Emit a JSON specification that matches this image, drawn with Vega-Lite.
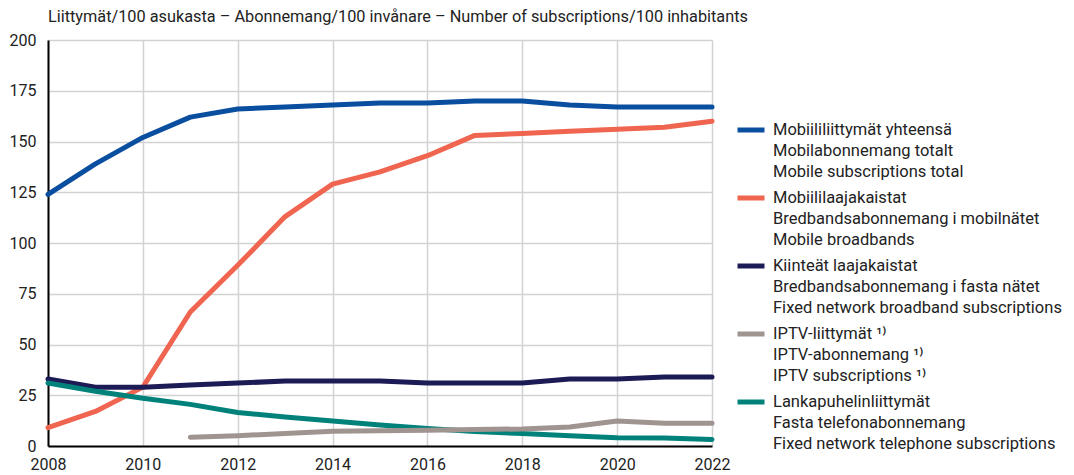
{
  "$schema": "https://vega.github.io/schema/vega-lite/v6.json",
  "width": 664,
  "height": 406,
  "autosize": {"type": "none"},
  "padding": {"left": 48, "top": 40, "right": 362, "bottom": 29},
  "title": {
    "text": "Liittymät/100 asukasta – Abonnemang/100 invånare – Number of subscriptions/100 inhabitants",
    "anchor": "start",
    "frame": "group",
    "offset": 7,
    "font": "Roboto",
    "fontSize": 16.3,
    "fontWeight": "normal",
    "color": "#222222"
  },
  "datasets": {
    "series": [
      {"year": 2008, "value": 124, "s": "Mobiililiittymät yhteensä|Mobilabonnemang totalt|Mobile subscriptions total"},
      {"year": 2009, "value": 139, "s": "Mobiililiittymät yhteensä|Mobilabonnemang totalt|Mobile subscriptions total"},
      {"year": 2010, "value": 152, "s": "Mobiililiittymät yhteensä|Mobilabonnemang totalt|Mobile subscriptions total"},
      {"year": 2011, "value": 162, "s": "Mobiililiittymät yhteensä|Mobilabonnemang totalt|Mobile subscriptions total"},
      {"year": 2012, "value": 166, "s": "Mobiililiittymät yhteensä|Mobilabonnemang totalt|Mobile subscriptions total"},
      {"year": 2013, "value": 167, "s": "Mobiililiittymät yhteensä|Mobilabonnemang totalt|Mobile subscriptions total"},
      {"year": 2014, "value": 168, "s": "Mobiililiittymät yhteensä|Mobilabonnemang totalt|Mobile subscriptions total"},
      {"year": 2015, "value": 169, "s": "Mobiililiittymät yhteensä|Mobilabonnemang totalt|Mobile subscriptions total"},
      {"year": 2016, "value": 169, "s": "Mobiililiittymät yhteensä|Mobilabonnemang totalt|Mobile subscriptions total"},
      {"year": 2017, "value": 170, "s": "Mobiililiittymät yhteensä|Mobilabonnemang totalt|Mobile subscriptions total"},
      {"year": 2018, "value": 170, "s": "Mobiililiittymät yhteensä|Mobilabonnemang totalt|Mobile subscriptions total"},
      {"year": 2019, "value": 168, "s": "Mobiililiittymät yhteensä|Mobilabonnemang totalt|Mobile subscriptions total"},
      {"year": 2020, "value": 167, "s": "Mobiililiittymät yhteensä|Mobilabonnemang totalt|Mobile subscriptions total"},
      {"year": 2021, "value": 167, "s": "Mobiililiittymät yhteensä|Mobilabonnemang totalt|Mobile subscriptions total"},
      {"year": 2022, "value": 167, "s": "Mobiililiittymät yhteensä|Mobilabonnemang totalt|Mobile subscriptions total"},
      {"year": 2008, "value": 9, "s": "Mobiililaajakaistat|Bredbandsabonnemang i mobilnätet|Mobile broadbands"},
      {"year": 2009, "value": 17, "s": "Mobiililaajakaistat|Bredbandsabonnemang i mobilnätet|Mobile broadbands"},
      {"year": 2010, "value": 29, "s": "Mobiililaajakaistat|Bredbandsabonnemang i mobilnätet|Mobile broadbands"},
      {"year": 2011, "value": 66, "s": "Mobiililaajakaistat|Bredbandsabonnemang i mobilnätet|Mobile broadbands"},
      {"year": 2012, "value": 89, "s": "Mobiililaajakaistat|Bredbandsabonnemang i mobilnätet|Mobile broadbands"},
      {"year": 2013, "value": 113, "s": "Mobiililaajakaistat|Bredbandsabonnemang i mobilnätet|Mobile broadbands"},
      {"year": 2014, "value": 129, "s": "Mobiililaajakaistat|Bredbandsabonnemang i mobilnätet|Mobile broadbands"},
      {"year": 2015, "value": 135, "s": "Mobiililaajakaistat|Bredbandsabonnemang i mobilnätet|Mobile broadbands"},
      {"year": 2016, "value": 143, "s": "Mobiililaajakaistat|Bredbandsabonnemang i mobilnätet|Mobile broadbands"},
      {"year": 2017, "value": 153, "s": "Mobiililaajakaistat|Bredbandsabonnemang i mobilnätet|Mobile broadbands"},
      {"year": 2018, "value": 154, "s": "Mobiililaajakaistat|Bredbandsabonnemang i mobilnätet|Mobile broadbands"},
      {"year": 2019, "value": 155, "s": "Mobiililaajakaistat|Bredbandsabonnemang i mobilnätet|Mobile broadbands"},
      {"year": 2020, "value": 156, "s": "Mobiililaajakaistat|Bredbandsabonnemang i mobilnätet|Mobile broadbands"},
      {"year": 2021, "value": 157, "s": "Mobiililaajakaistat|Bredbandsabonnemang i mobilnätet|Mobile broadbands"},
      {"year": 2022, "value": 160, "s": "Mobiililaajakaistat|Bredbandsabonnemang i mobilnätet|Mobile broadbands"},
      {"year": 2008, "value": 33, "s": "Kiinteät laajakaistat|Bredbandsabonnemang i fasta nätet|Fixed network broadband subscriptions"},
      {"year": 2009, "value": 29, "s": "Kiinteät laajakaistat|Bredbandsabonnemang i fasta nätet|Fixed network broadband subscriptions"},
      {"year": 2010, "value": 29, "s": "Kiinteät laajakaistat|Bredbandsabonnemang i fasta nätet|Fixed network broadband subscriptions"},
      {"year": 2011, "value": 30, "s": "Kiinteät laajakaistat|Bredbandsabonnemang i fasta nätet|Fixed network broadband subscriptions"},
      {"year": 2012, "value": 31, "s": "Kiinteät laajakaistat|Bredbandsabonnemang i fasta nätet|Fixed network broadband subscriptions"},
      {"year": 2013, "value": 32, "s": "Kiinteät laajakaistat|Bredbandsabonnemang i fasta nätet|Fixed network broadband subscriptions"},
      {"year": 2014, "value": 32, "s": "Kiinteät laajakaistat|Bredbandsabonnemang i fasta nätet|Fixed network broadband subscriptions"},
      {"year": 2015, "value": 32, "s": "Kiinteät laajakaistat|Bredbandsabonnemang i fasta nätet|Fixed network broadband subscriptions"},
      {"year": 2016, "value": 31, "s": "Kiinteät laajakaistat|Bredbandsabonnemang i fasta nätet|Fixed network broadband subscriptions"},
      {"year": 2017, "value": 31, "s": "Kiinteät laajakaistat|Bredbandsabonnemang i fasta nätet|Fixed network broadband subscriptions"},
      {"year": 2018, "value": 31, "s": "Kiinteät laajakaistat|Bredbandsabonnemang i fasta nätet|Fixed network broadband subscriptions"},
      {"year": 2019, "value": 33, "s": "Kiinteät laajakaistat|Bredbandsabonnemang i fasta nätet|Fixed network broadband subscriptions"},
      {"year": 2020, "value": 33, "s": "Kiinteät laajakaistat|Bredbandsabonnemang i fasta nätet|Fixed network broadband subscriptions"},
      {"year": 2021, "value": 34, "s": "Kiinteät laajakaistat|Bredbandsabonnemang i fasta nätet|Fixed network broadband subscriptions"},
      {"year": 2022, "value": 34, "s": "Kiinteät laajakaistat|Bredbandsabonnemang i fasta nätet|Fixed network broadband subscriptions"},
      {"year": 2008, "value": 31, "s": "Lankapuhelinliittymät|Fasta telefonabonnemang|Fixed network telephone subscriptions"},
      {"year": 2009, "value": 27, "s": "Lankapuhelinliittymät|Fasta telefonabonnemang|Fixed network telephone subscriptions"},
      {"year": 2010, "value": 23.5, "s": "Lankapuhelinliittymät|Fasta telefonabonnemang|Fixed network telephone subscriptions"},
      {"year": 2011, "value": 20.5, "s": "Lankapuhelinliittymät|Fasta telefonabonnemang|Fixed network telephone subscriptions"},
      {"year": 2012, "value": 16.5, "s": "Lankapuhelinliittymät|Fasta telefonabonnemang|Fixed network telephone subscriptions"},
      {"year": 2013, "value": 14.3, "s": "Lankapuhelinliittymät|Fasta telefonabonnemang|Fixed network telephone subscriptions"},
      {"year": 2014, "value": 12.3, "s": "Lankapuhelinliittymät|Fasta telefonabonnemang|Fixed network telephone subscriptions"},
      {"year": 2015, "value": 10.3, "s": "Lankapuhelinliittymät|Fasta telefonabonnemang|Fixed network telephone subscriptions"},
      {"year": 2016, "value": 8.6, "s": "Lankapuhelinliittymät|Fasta telefonabonnemang|Fixed network telephone subscriptions"},
      {"year": 2017, "value": 7.2, "s": "Lankapuhelinliittymät|Fasta telefonabonnemang|Fixed network telephone subscriptions"},
      {"year": 2018, "value": 6.1, "s": "Lankapuhelinliittymät|Fasta telefonabonnemang|Fixed network telephone subscriptions"},
      {"year": 2019, "value": 5, "s": "Lankapuhelinliittymät|Fasta telefonabonnemang|Fixed network telephone subscriptions"},
      {"year": 2020, "value": 4.1, "s": "Lankapuhelinliittymät|Fasta telefonabonnemang|Fixed network telephone subscriptions"},
      {"year": 2021, "value": 4, "s": "Lankapuhelinliittymät|Fasta telefonabonnemang|Fixed network telephone subscriptions"},
      {"year": 2022, "value": 3.2, "s": "Lankapuhelinliittymät|Fasta telefonabonnemang|Fixed network telephone subscriptions"},
      {"year": 2011, "value": 4.3, "s": "IPTV-liittymät ¹⁾|IPTV-abonnemang ¹⁾|IPTV subscriptions ¹⁾"},
      {"year": 2012, "value": 5.1, "s": "IPTV-liittymät ¹⁾|IPTV-abonnemang ¹⁾|IPTV subscriptions ¹⁾"},
      {"year": 2013, "value": 6.2, "s": "IPTV-liittymät ¹⁾|IPTV-abonnemang ¹⁾|IPTV subscriptions ¹⁾"},
      {"year": 2014, "value": 7.3, "s": "IPTV-liittymät ¹⁾|IPTV-abonnemang ¹⁾|IPTV subscriptions ¹⁾"},
      {"year": 2015, "value": 7.5, "s": "IPTV-liittymät ¹⁾|IPTV-abonnemang ¹⁾|IPTV subscriptions ¹⁾"},
      {"year": 2016, "value": 7.8, "s": "IPTV-liittymät ¹⁾|IPTV-abonnemang ¹⁾|IPTV subscriptions ¹⁾"},
      {"year": 2017, "value": 8.1, "s": "IPTV-liittymät ¹⁾|IPTV-abonnemang ¹⁾|IPTV subscriptions ¹⁾"},
      {"year": 2018, "value": 8.4, "s": "IPTV-liittymät ¹⁾|IPTV-abonnemang ¹⁾|IPTV subscriptions ¹⁾"},
      {"year": 2019, "value": 9.4, "s": "IPTV-liittymät ¹⁾|IPTV-abonnemang ¹⁾|IPTV subscriptions ¹⁾"},
      {"year": 2020, "value": 12.3, "s": "IPTV-liittymät ¹⁾|IPTV-abonnemang ¹⁾|IPTV subscriptions ¹⁾"},
      {"year": 2021, "value": 11.2, "s": "IPTV-liittymät ¹⁾|IPTV-abonnemang ¹⁾|IPTV subscriptions ¹⁾"},
      {"year": 2022, "value": 11.2, "s": "IPTV-liittymät ¹⁾|IPTV-abonnemang ¹⁾|IPTV subscriptions ¹⁾"}
    ]
  },
  "data": {"name": "series"},
  "mark": {"type": "line", "strokeWidth": 5, "strokeCap": "round", "strokeJoin": "round"},
  "encoding": {
    "x": {
      "field": "year",
      "type": "quantitative",
      "scale": {"domain": [2008, 2022], "nice": false, "zero": false},
      "axis": {
        "title": null,
        "values": [2008, 2010, 2012, 2014, 2016, 2018, 2020, 2022],
        "format": "d",
        "labelFlush": false,
        "labelOverlap": false,
        "ticks": false,
        "labelPadding": 10,
        "domainColor": "#000000",
        "domainWidth": 2,
        "gridColor": "#d2d2d2",
        "gridWidth": 1.5
      }
    },
    "y": {
      "field": "value",
      "type": "quantitative",
      "scale": {"domain": [0, 200], "nice": false},
      "axis": {
        "title": null,
        "values": [0, 25, 50, 75, 100, 125, 150, 175, 200],
        "ticks": false,
        "labelPadding": 12,
        "domainColor": "#000000",
        "domainWidth": 2,
        "gridColor": "#d2d2d2",
        "gridWidth": 1.5
      }
    },
    "color": {
      "field": "s",
      "type": "nominal",
      "scale": {
        "domain": [
          "Mobiililiittymät yhteensä|Mobilabonnemang totalt|Mobile subscriptions total",
          "Mobiililaajakaistat|Bredbandsabonnemang i mobilnätet|Mobile broadbands",
          "Kiinteät laajakaistat|Bredbandsabonnemang i fasta nätet|Fixed network broadband subscriptions",
          "IPTV-liittymät ¹⁾|IPTV-abonnemang ¹⁾|IPTV subscriptions ¹⁾",
          "Lankapuhelinliittymät|Fasta telefonabonnemang|Fixed network telephone subscriptions"
        ],
        "range": ["#0a4ea0", "#ef6550", "#1d1b56", "#a09490", "#00827b"]
      },
      "legend": {
        "title": null,
        "orient": "none",
        "legendX": 687,
        "legendY": 74,
        "symbolType": "stroke",
        "symbolSize": 729,
        "symbolStrokeWidth": 5,
        "labelExpr": "split(datum.label, '|')",
        "labelBaseline": "middle",
        "labelOffset": 6,
        "labelLimit": 400,
        "rowPadding": 1
      }
    }
  },
  "config": {
    "font": "Roboto",
    "view": {"stroke": null},
    "style": {"guide-label": {"lineHeight": 21}},
    "axis": {"labelFont": "Roboto", "labelFontSize": 16, "labelColor": "#222222"},
    "legend": {"labelFont": "Roboto", "labelFontSize": 16.5, "labelColor": "#222222"}
  }
}
